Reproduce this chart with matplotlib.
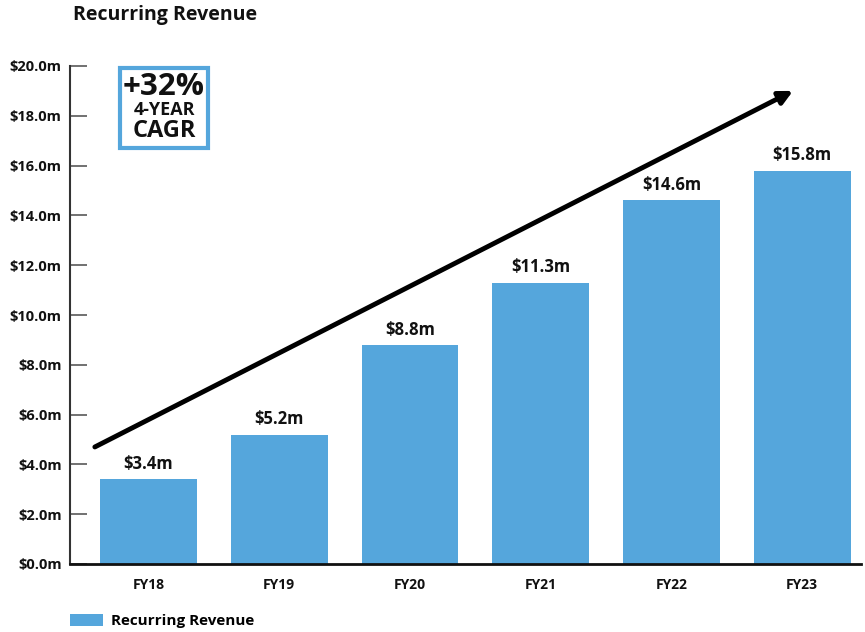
import matplotlib
matplotlib.use("Agg")
import matplotlib.pyplot as plt
from matplotlib.patches import Rectangle

plt.rcParams['font.family'] = ['Open Sans', 'DejaVu Sans']

# données
years = ["FY18", "FY19", "FY20", "FY21", "FY22", "FY23"]
revenue = [3.4, 5.2, 8.8, 11.3, 14.6, 15.8]
value_labels = ["$3.4m", "$5.2m", "$8.8m", "$11.3m", "$14.6m", "$15.8m"]
y_ticks = [0, 2, 4, 6, 8, 10, 12, 14, 16, 18, 20]
y_tick_labels = ["$%.1fm" % v for v in y_ticks]
bar_color = "#55a6dc"

fig = plt.figure(figsize=(8.65, 6.32), dpi=100)
ax = fig.add_axes([70 / 865, 68 / 632, 791 / 865, 498 / 632])

x = list(range(len(years)))
bars = ax.bar(x, revenue, width=0.74, color=bar_color, label="Recurring Revenue", zorder=2)

# étiquettes au-dessus des barres
for xi, v, lab in zip(x, revenue, value_labels):
    ax.text(xi, v + 0.25, lab, ha="center", va="bottom", fontsize=12, fontweight="bold", color="#111111")

ax.set_xlim(-0.6, 5.45)
ax.set_ylim(0, 20)
ax.set_xticks(x)
ax.set_xticklabels(years, fontsize=10, fontweight="bold", color="#111111")
ax.set_yticks(y_ticks)
ax.set_yticklabels(y_tick_labels, fontsize=10.5, fontweight="bold", color="#111111")
ax.tick_params(axis="x", length=0, pad=10)
ax.tick_params(axis="y", direction="in", length=12, width=1.3, color="#666666", pad=6)

for s in ["top", "right"]:
    ax.spines[s].set_visible(False)
ax.spines["left"].set_color("#333333")
ax.spines["left"].set_linewidth(1.5)
ax.spines["bottom"].set_color("#111111")
ax.spines["bottom"].set_linewidth(2)

# flèche de tendance
ax.annotate("", xy=(4.93, 19.0), xytext=(-0.41, 4.7),
            arrowprops=dict(arrowstyle="-|>,head_length=0.8,head_width=0.4", color="black", lw=3.5,
                            shrinkA=0, shrinkB=0),
            zorder=3)

# encadré CAGR
box = Rectangle((120 / 865, (632 - 148) / 632), 88 / 865, 80 / 632, transform=fig.transFigure,
                facecolor="white", edgecolor=bar_color, linewidth=3, zorder=5)
fig.patches.append(box)
cagr_lines = [("+32%", 87, 22.5), ("4-YEAR", 110, 13), ("CAGR", 131, 17)]
for txt, ypx, fs in cagr_lines:
    fig.text(164 / 865, (632 - ypx) / 632, txt, ha="center", va="center",
             fontsize=fs, fontweight="bold", color="#111111", zorder=6)

# titre
fig.text(73 / 865, (632 - 15) / 632, "Recurring Revenue", ha="left", va="center",
         fontsize=14, fontweight="bold", color="#111111")

# légende
fig.legend(handles=[bars], labels=["Recurring Revenue"], loc="center left",
           bbox_to_anchor=(56 / 865, (632 - 621) / 632), frameon=False,
           prop=dict(family="Open Sans", weight="bold", size=11),
           handlelength=2.2, handleheight=0.8, handletextpad=0.5)

fig.savefig("out.png", dpi=100)
